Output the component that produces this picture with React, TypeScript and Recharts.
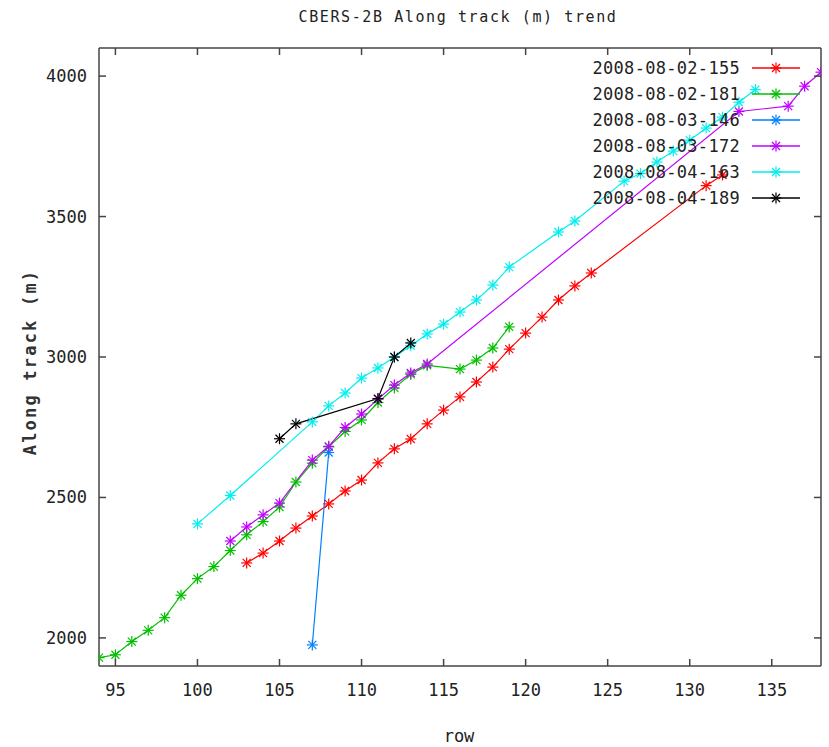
import React from 'react';
import { LineChart, Line, XAxis, YAxis, Legend } from 'recharts';

const xTicks = [95, 100, 105, 110, 115, 120, 125, 130, 135];
const yTicks = [2000, 2500, 3000, 3500, 4000];

const rows155 = [103, 104, 105, 106, 107, 108, 109, 110, 111, 112, 113, 114, 115, 116, 117, 118, 119, 120, 121, 122, 123, 124, 131, 132];
const along155 = [2267, 2302, 2345, 2391, 2434, 2477, 2523, 2562, 2623, 2673, 2708, 2762, 2811, 2858, 2911, 2964, 3028, 3085, 3142, 3203, 3253, 3299, 3610, 3648];

const rows181 = [94, 95, 96, 97, 98, 99, 100, 101, 102, 103, 104, 105, 106, 107, 108, 109, 110, 111, 112, 113, 114, 116, 117, 118, 119];
const along181 = [1930, 1940, 1987, 2027, 2072, 2152, 2211, 2254, 2311, 2367, 2414, 2466, 2555, 2622, 2680, 2735, 2776, 2838, 2890, 2938, 2970, 2957, 2989, 3032, 3107];

const rows146 = [107, 108];
const along146 = [1975, 2660];

const rows172 = [102, 103, 104, 105, 107, 108, 109, 110, 111, 112, 113, 114, 133, 136, 137, 138];
const along172 = [2345, 2395, 2438, 2480, 2633, 2682, 2749, 2797, 2850, 2900, 2943, 2975, 3874, 3893, 3964, 4014];

const rows163 = [100, 102, 107, 108, 109, 110, 111, 112, 113, 114, 115, 116, 117, 118, 119, 122, 123, 126, 127, 128, 129, 130, 131, 132, 133, 134];
const along163 = [2406, 2507, 2769, 2826, 2872, 2925, 2961, 3000, 3040, 3082, 3117, 3160, 3203, 3256, 3320, 3445, 3484, 3626, 3653, 3694, 3733, 3772, 3815, 3854, 3907, 3952];

const rows189 = [105, 106, 111, 112, 113];
const along189 = [2709, 2762, 2852, 3000, 3050];

const seriesNames = ['2008-08-02-155', '2008-08-02-181', '2008-08-03-146', '2008-08-03-172', '2008-08-04-163', '2008-08-04-189'];

const zip = (rows: number[], vals: number[]) => rows.map((row, i) => ({ row, along: vals[i] }));

const series = [
  { name: seriesNames[0], color: '#ff0000', data: zip(rows155, along155) },
  { name: seriesNames[1], color: '#00c000', data: zip(rows181, along181) },
  { name: seriesNames[2], color: '#0080ff', data: zip(rows146, along146) },
  { name: seriesNames[3], color: '#c000ff', data: zip(rows172, along172) },
  { name: seriesNames[4], color: '#00eeee', data: zip(rows163, along163) },
  { name: seriesNames[5], color: '#000000', data: zip(rows189, along189) },
];

const FONT = '"DejaVu Sans Mono", monospace';
const FRAME = '#444';
const TICK = 7;

function Star({ cx, cy, color }: { cx: number; cy: number; color: string }) {
  if (cx == null || cy == null) return <g />;
  const r = 5.5;
  const d = 4;
  return (
    <g stroke={color} strokeWidth={1.2}>
      <line x1={cx - r} y1={cy} x2={cx + r} y2={cy} />
      <line x1={cx} y1={cy - r} x2={cx} y2={cy + r} />
      <line x1={cx - d} y1={cy - d} x2={cx + d} y2={cy + d} />
      <line x1={cx - d} y1={cy + d} x2={cx + d} y2={cy - d} />
    </g>
  );
}

function BottomTick(p: any) {
  return (
    <g>
      <line x1={p.x} y1={p.y} x2={p.x} y2={p.y - TICK} stroke={FRAME} strokeWidth={1.5} />
      <text x={p.x} y={p.y + 30} textAnchor="middle" fontFamily={FONT} fontSize={17} fill="#222">
        {p.payload.value}
      </text>
    </g>
  );
}

function TopTick(p: any) {
  return <line x1={p.x} y1={p.y} x2={p.x} y2={p.y + TICK} stroke={FRAME} strokeWidth={1.5} />;
}

function LeftTick(p: any) {
  return (
    <g>
      <line x1={p.x} y1={p.y} x2={p.x + TICK} y2={p.y} stroke={FRAME} strokeWidth={1.5} />
      <text x={p.x - 12} y={p.y + 6} textAnchor="end" fontFamily={FONT} fontSize={17} fill="#222">
        {p.payload.value}
      </text>
    </g>
  );
}

function RightTick(p: any) {
  return <line x1={p.x} y1={p.y} x2={p.x - TICK} y2={p.y} stroke={FRAME} strokeWidth={1.5} />;
}

function LegendBox() {
  return (
    <div>
      {series.map((s) => (
        <div key={s.name} style={{ display: 'flex', alignItems: 'center', height: 26 }}>
          <span style={{ width: 180, textAlign: 'right', fontFamily: FONT, fontSize: 17, letterSpacing: 0.3, color: '#222' }}>
            {s.name}
          </span>
          <svg width={50} height={26} style={{ marginLeft: 12 }}>
            <line x1={0} y1={13} x2={48} y2={13} stroke={s.color} strokeWidth={1.5} />
            <Star cx={24} cy={13} color={s.color} />
          </svg>
        </div>
      ))}
    </div>
  );
}

export default function App() {
  return (
    <div style={{ position: 'absolute', left: 0, top: 0, width: 829, height: 747, background: '#fff' }}>
      <LineChart width={829} height={747} margin={{ top: 47, right: 7, bottom: 51, left: 0 }}>
        <XAxis
          xAxisId="b"
          dataKey="row"
          type="number"
          domain={[94, 138]}
          ticks={xTicks}
          interval={0}
          allowDataOverflow
          height={30}
          tickSize={0}
          tickMargin={0}
          tickLine={false}
          axisLine={{ stroke: FRAME, strokeWidth: 1.5 }}
          tick={(p: any) => <BottomTick {...p} />}
        />
        <XAxis
          xAxisId="t"
          orientation="top"
          dataKey="row"
          type="number"
          domain={[94, 138]}
          ticks={xTicks}
          interval={0}
          allowDataOverflow
          height={1}
          tickSize={0}
          tickMargin={0}
          tickLine={false}
          axisLine={{ stroke: FRAME, strokeWidth: 1.5 }}
          tick={(p: any) => <TopTick {...p} />}
        />
        <YAxis
          yAxisId="l"
          type="number"
          domain={[1900, 4100]}
          ticks={yTicks}
          interval={0}
          allowDataOverflow
          width={99}
          tickSize={0}
          tickMargin={0}
          tickLine={false}
          axisLine={{ stroke: FRAME, strokeWidth: 1.5 }}
          tick={(p: any) => <LeftTick {...p} />}
        />
        <YAxis
          yAxisId="r"
          orientation="right"
          type="number"
          domain={[1900, 4100]}
          ticks={yTicks}
          interval={0}
          allowDataOverflow
          width={1}
          tickSize={0}
          tickMargin={0}
          tickLine={false}
          axisLine={{ stroke: FRAME, strokeWidth: 1.5 }}
          tick={(p: any) => <RightTick {...p} />}
        />
        {series.map((s) => (
          <Line
            key={s.name}
            xAxisId="b"
            yAxisId="l"
            name={s.name}
            data={s.data}
            dataKey="along"
            type="linear"
            stroke={s.color}
            strokeWidth={1.2}
            isAnimationActive={false}
            dot={(p: any) => <Star key={`${s.name}-${p.index}`} cx={p.cx} cy={p.cy} color={s.color} />}
            activeDot={false}
          />
        ))}
        <Legend
          layout="vertical"
          align="center"
          verticalAlign="middle"
          wrapperStyle={{ position: 'absolute', left: 560, top: 55, width: 250 }}
          content={() => <LegendBox />}
        />
        <text x={458} y={22} textAnchor="middle" fontFamily={FONT} fontSize={15} letterSpacing={1.6} fill="#222">
          CBERS-2B Along track (m) trend
        </text>
        <text x={459} y={742} textAnchor="middle" fontFamily={FONT} fontSize={17} fill="#222">
          row
        </text>
        <text
          x={30}
          y={362}
          transform="rotate(-90 30 362)"
          textAnchor="middle"
          dominantBaseline="central"
          fontFamily={FONT}
          fontSize={17}
          fontWeight="bold"
          letterSpacing={2.2}
          fill="#333"
        >
          Along track (m)
        </text>
      </LineChart>
    </div>
  );
}
